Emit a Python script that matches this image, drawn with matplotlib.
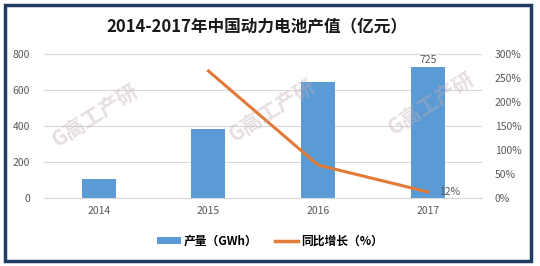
import matplotlib
matplotlib.use('Agg')
import matplotlib.pyplot as plt
from matplotlib.patches import Rectangle, Patch
from matplotlib.lines import Line2D
from matplotlib.ticker import FuncFormatter

plt.rcParams['font.family'] = ['Noto Sans CJK SC', 'DejaVu Sans']

# data
years = ['2014', '2015', '2016', '2017']
output_value = [104, 382, 645, 725]          # 亿元
growth_years = ['2015', '2016', '2017']
growth = [2.64, 0.68, 0.12]                   # 同比增长

bar_color = '#5b9bd5'
line_color = '#e07b39'
text_color = '#595959'

fig = plt.figure(figsize=(5.4, 2.66), dpi=100)
ax = fig.add_axes([0.0815, 0.257, 0.812, 0.541])
ax2 = ax.twinx()

x = list(range(len(years)))
ax.bar(x, output_value, width=0.31, color=bar_color, zorder=2)
ax.set_xlim(-0.5, 3.5)
ax.set_ylim(0, 800)
ax.set_yticks([0, 200, 400, 600, 800])
ax.set_xticks(x)
ax.set_xticklabels(years)
ax.grid(axis='y', color='#d9d9d9', linewidth=0.8, zorder=0)
ax.set_axisbelow(True)
for s in ['top', 'left', 'right']:
    ax.spines[s].set_visible(False)
ax.spines['bottom'].set_color('#d9d9d9')
ax.tick_params(axis='both', length=0, labelsize=7.5, colors=text_color)
ax.tick_params(axis='y', pad=10)
ax.tick_params(axis='x', pad=6)
ax.text(x[-1], output_value[-1] + 12, str(output_value[-1]), ha='center', va='bottom',
        fontsize=7.5, color=text_color)

gx = [years.index(y) for y in growth_years]
ax2.plot(gx, growth, color=line_color, linewidth=2.2, zorder=3)
ax2.set_ylim(0, 3)
ax2.set_yticks([0, 0.5, 1, 1.5, 2, 2.5, 3])
ax2.yaxis.set_major_formatter(FuncFormatter(lambda v, p: f'{v*100:.0f}%'))
for s in ax2.spines.values():
    s.set_visible(False)
ax2.tick_params(axis='y', length=0, labelsize=7.5, colors=text_color, pad=9)
ax2.text(gx[-1] + 0.1, growth[-1], f'{growth[-1]*100:.0f}%', ha='left', va='center',
         fontsize=7.5, color=text_color)

# faint watermarks
for wx, wy in [(0.176, 0.568), (0.505, 0.586), (0.798, 0.613)]:
    fig.text(wx, wy, 'G高工产研', rotation=33, ha='center', va='center', fontsize=15,
             fontweight='bold', color='#c4aeb4', alpha=0.4, zorder=5)

fig.text(0.476, 0.898, '2014-2017年中国动力电池产值（亿元）', ha='center', va='center',
         fontsize=12, fontweight='bold', color='#1a1a1a')

handles = [Patch(facecolor=bar_color, edgecolor='none'),
           Line2D([0], [0], color=line_color, linewidth=2.5)]
fig.legend(handles, ['产量（GWh）', '同比增长（%）'], loc='center', bbox_to_anchor=(0.5, 0.094),
           ncol=2, frameon=False, handlelength=2.0, handleheight=0.55,
           columnspacing=1.5, handletextpad=0.2,
           prop={'weight': 'bold', 'size': 8.5})

fig.patches.append(Rectangle((0.009, 0.018), 0.975, 0.965, transform=fig.transFigure,
                             fill=False, edgecolor='#1f3d63', linewidth=2.5))

fig.savefig('out.png', dpi=100)
